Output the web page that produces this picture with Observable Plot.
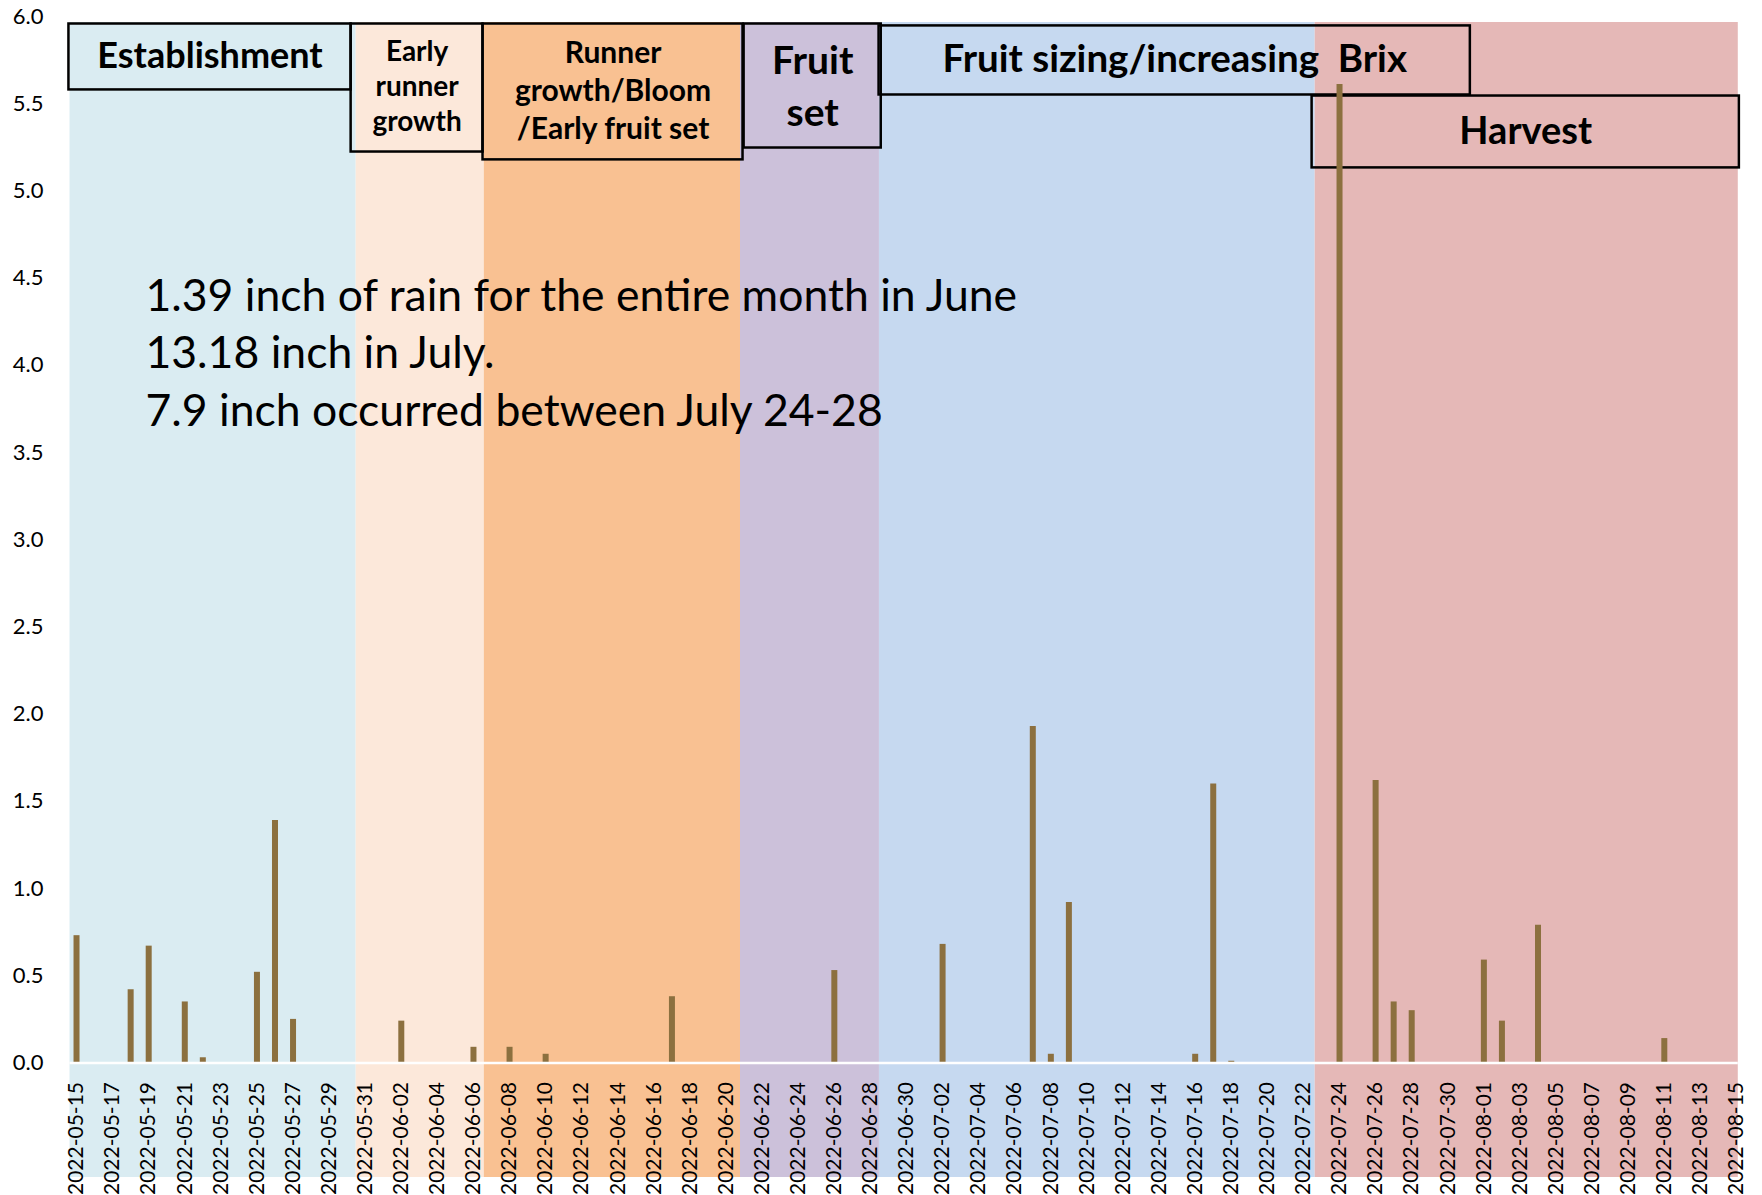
<!DOCTYPE html>
<html>
<head>
<meta charset="utf-8">
<script src="https://cdn.jsdelivr.net/npm/d3@7"></script>
<script src="https://cdn.jsdelivr.net/npm/@observablehq/plot@0.6"></script>
<style>
  html, body { margin: 0; padding: 0; background: #fff; }
  #chart svg { display: block; }
</style>
</head>
<body>
<div id="chart"></div>
<script>
// ---------- data ----------
// daily rainfall (inches); days not listed had no rain
const rainDates = ["2022-05-15","2022-05-18","2022-05-19","2022-05-21","2022-05-22","2022-05-25","2022-05-26","2022-05-27",
  "2022-06-02","2022-06-06","2022-06-08","2022-06-10","2022-06-17","2022-06-26",
  "2022-07-02","2022-07-07","2022-07-08","2022-07-09","2022-07-16","2022-07-17","2022-07-18",
  "2022-07-24","2022-07-26","2022-07-27","2022-07-28",
  "2022-08-01","2022-08-02","2022-08-04","2022-08-11"];
const rainInches = [0.73,0.42,0.67,0.35,0.03,0.52,1.39,0.25,
  0.24,0.09,0.09,0.05,0.38,0.53,
  0.68,1.93,0.05,0.92,0.05,1.60,0.01,
  5.61,1.62,0.35,0.30,
  0.59,0.24,0.79,0.14];

// crop growth phases, boundaries in days after 2022-05-15
const phaseLabels = ["Establishment", "Early\nrunner\ngrowth", "Runner\ngrowth/Bloom\n/Early fruit set", "Fruit\nset", "Fruit sizing/increasing  Brix", "Harvest"];
const phaseStart = [-0.36, 15.5, 22.6, 36.8, 44.5, 68.65];
const phaseEnd   = [15.5, 22.6, 36.8, 44.5, 68.65, 92.1];

const firstDay = "2022-05-15";
const lastDay = "2022-08-15";
const yTicks = [0, 0.5, 1, 1.5, 2, 2.5, 3, 3.5, 4, 4.5, 5, 5.5, 6];
const annotation = "1.39 inch of rain for the entire month in June\n13.18 inch in July.\n7.9 inch occurred between July 24-28";

// ---------- styles / layout ----------
const phaseColors = ["#DAECF2", "#FCE8DA", "#F9C192", "#CCC1DA", "#C6D9F0", "#E5B8B7"];
const barColor = "#8C703F";
// label boxes: [x1, x2] in days after start, [top, bottom] in inches
const boxX1 = [-0.42, 15.22, 22.53, 37.0, 44.48, 68.48];
const boxX2 = [15.22, 22.53, 36.94, 44.6, 77.25, 92.16];
const boxTop = [5.957, 5.957, 5.957, 5.957, 5.946, 5.544];
const boxBottom = [5.579, 5.223, 5.178, 5.246, 5.550, 5.132];
const boxFont = [36, 28, 30, 39, 38.5, 38];
const boxLine = [1.2, 1.24, 1.26, 1.35, 1.2, 1.2];

// ---------- build ----------
const day0 = Date.parse(firstDay + "T00:00:00Z");
const at = k => new Date(day0 + k * 864e5);
const nDays = Math.round((Date.parse(lastDay + "T00:00:00Z") - day0) / 864e5);

const rain = rainDates.map((d, i) => ({date: new Date(d + "T00:00:00Z"), value: rainInches[i]}));
const phases = phaseLabels.map((label, i) => ({label, start: phaseStart[i], end: phaseEnd[i], color: phaseColors[i]}));
const boxes = phaseLabels.map((label, i) => ({label, x1: boxX1[i], x2: boxX2[i], top: boxTop[i], bottom: boxBottom[i], size: boxFont[i], lh: boxLine[i]}));
const tickDates = d3.range(0, nDays + 1, 2).map(at);

const chart = Plot.plot({
  width: 1762,
  height: 1195,
  marginTop: 16,
  marginBottom: 132.5,
  marginLeft: 67,
  marginRight: 17,
  style: {fontFamily: "Lato, 'Noto Sans', sans-serif", background: "#fff", color: "#000"},
  x: {type: "utc", domain: [at(-0.5), at(nDays + 0.5)]},
  y: {domain: [0, 6]},
  color: {type: "identity"},
  marks: [
    Plot.rect(phases, {x1: d => at(d.start), x2: d => at(d.end), fill: "color", insetTop: 6, insetBottom: -114.5}),
    Plot.axisY({ticks: yTicks, tickFormat: d3.format(".1f"), tickSize: 0, tickPadding: 24, fontSize: 22, label: null}),
    Plot.axisX({ticks: tickDates, tickFormat: d3.utcFormat("%Y-%m-%d"), tickSize: 0, tickPadding: 19, tickRotate: -90, fontSize: 21, label: null}),
    Plot.rect(boxes, {x1: d => at(d.x1), x2: d => at(d.x2), y1: "bottom", y2: "top", fill: "none", stroke: "#000", strokeWidth: 2.5}),
    ...boxes.map(b => Plot.text([b], {
      x: d => at((d.x1 + d.x2) / 2), y: d => (d.top + d.bottom) / 2, text: "label", dy: -3,
      fontSize: b.size, fontWeight: "bold", lineHeight: b.lh, lineAnchor: "middle", fill: "#000"
    })),
    Plot.text([annotation], {frameAnchor: "top-left", text: d => d, textAnchor: "start", lineAnchor: "top",
      dx: 78, dy: 253, fontSize: 44.5, lineHeight: 1.3, fill: "#000"}),
    Plot.ruleX(rain, {x: "date", y1: 0, y2: "value", stroke: barColor, strokeWidth: 6}),
    Plot.ruleY([0], {x1: () => at(phaseStart[0]), x2: () => at(phaseEnd[phaseEnd.length - 1]), stroke: "#fff", strokeWidth: 2.5})
  ]
});
document.getElementById("chart").append(chart);
</script>
</body>
</html>
